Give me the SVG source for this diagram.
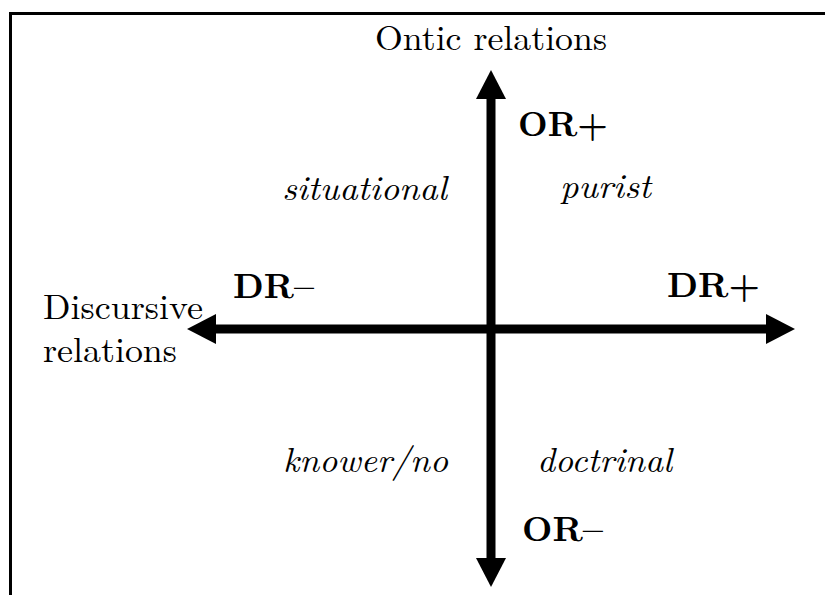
<svg xmlns="http://www.w3.org/2000/svg" width="825" height="595" viewBox="0 0 825 595">
<style>
text{font-family:'Latin Modern Roman','Liberation Serif',serif;fill:#000}
.lab{font-size:35.6px}
.b{font-size:35.4px;font-weight:bold}
.i{font-size:35.6px;font-style:italic}
.ax{stroke:#000;stroke-width:9;fill:none}
.border{stroke:#000;stroke-width:3;fill:none}
</style>
<defs>
<marker id="ah" viewBox="0 0 29 30" refX="0" refY="15" markerWidth="29" markerHeight="30" markerUnits="userSpaceOnUse" orient="auto">
<path d="M0,0 L29,15 L0,30 Z" fill="#000"/>
</marker>
</defs>
<rect width="825" height="595" fill="#fff"/>
<path class="border" d="M10.5,595 V13.5 H825"/>
<g id="connectors">
<line class="ax" x1="491" y1="329" x2="491" y2="99" marker-end="url(#ah)"/>
<line class="ax" x1="491" y1="329" x2="491" y2="558" marker-end="url(#ah)"/>
<line class="ax" x1="491" y1="329" x2="766" y2="329" marker-end="url(#ah)"/>
<line class="ax" x1="491" y1="329" x2="216" y2="329" marker-end="url(#ah)"/>
</g>
<g id="ontic"><text class="lab" x="375" y="50" textLength="232" lengthAdjust="spacingAndGlyphs">Ontic relations</text></g>
<g id="discursive"><text class="lab" x="43" y="319" textLength="160" lengthAdjust="spacingAndGlyphs">Discursive</text><text class="lab" x="43" y="362" textLength="134" lengthAdjust="spacingAndGlyphs">relations</text></g>
<g id="or-plus"><text class="b" x="518" y="136" textLength="90" lengthAdjust="spacingAndGlyphs">OR+</text></g>
<g id="or-minus"><text class="b" x="522" y="541" textLength="81" lengthAdjust="spacingAndGlyphs">OR–</text></g>
<g id="dr-minus"><text class="b" x="233" y="298" textLength="81" lengthAdjust="spacingAndGlyphs">DR–</text></g>
<g id="dr-plus"><text class="b" x="667" y="297" textLength="93" lengthAdjust="spacingAndGlyphs">DR+</text></g>
<g id="situational"><text class="i" x="282" y="200" textLength="165" lengthAdjust="spacingAndGlyphs">situational</text></g>
<g id="purist"><text class="i" x="560" y="198" textLength="91" lengthAdjust="spacingAndGlyphs">purist</text></g>
<g id="knower"><text class="i" x="283" y="472" textLength="165" lengthAdjust="spacingAndGlyphs">knower/no</text></g>
<g id="doctrinal"><text class="i" x="537" y="472" textLength="135" lengthAdjust="spacingAndGlyphs">doctrinal</text></g>
</svg>
